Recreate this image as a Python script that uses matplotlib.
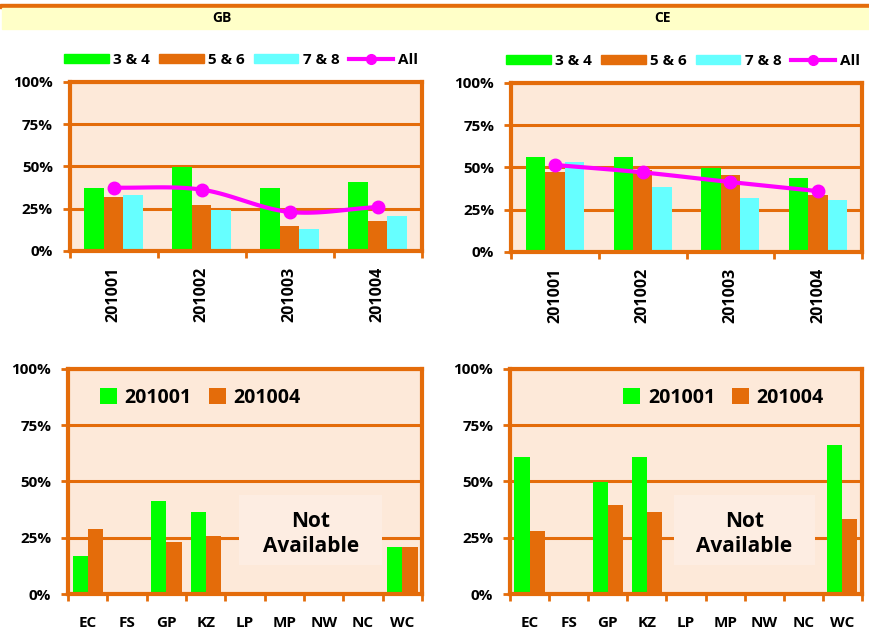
import numpy as np
import matplotlib.pyplot as plt
from matplotlib.patches import Rectangle
from matplotlib.lines import Line2D

plt.rcParams['font.family'] = ['Open Sans', 'DejaVu Sans']
plt.rcParams['font.weight'] = 'bold'

# data
quarters = ["201001", "201002", "201003", "201004"]
series_names = ["3 & 4", "5 & 6", "7 & 8"]
gb_34 = [0.37, 0.497, 0.37, 0.406]
gb_56 = [0.32, 0.274, 0.148, 0.176]
gb_78 = [0.33, 0.245, 0.128, 0.207]
gb_all = [0.375, 0.363, 0.231, 0.26]
ce_34 = [0.56, 0.56, 0.495, 0.436]
ce_56 = [0.471, 0.485, 0.453, 0.337]
ce_78 = [0.53, 0.386, 0.32, 0.31]
ce_all = [0.515, 0.471, 0.414, 0.36]

provinces = ["EC", "FS", "GP", "KZ", "LP", "MP", "NW", "NC", "WC"]
gb_p1 = [0.167, np.nan, 0.412, 0.363, np.nan, np.nan, np.nan, np.nan, 0.21]
gb_p4 = [0.29, np.nan, 0.233, 0.256, np.nan, np.nan, np.nan, np.nan, 0.21]
ce_p1 = [0.607, np.nan, 0.499, 0.607, np.nan, np.nan, np.nan, np.nan, 0.664]
ce_p4 = [0.281, np.nan, 0.397, 0.363, np.nan, np.nan, np.nan, np.nan, 0.333]

GREEN = "#00ff00"
ORANGE = "#e46c0a"
CYAN = "#66ffff"
MAGENTA = "#ff00ff"
BG = "#fde9d9"


def smooth(xs, ys, n=30):
    # catmull-rom curve through the points, like excel's smoothed line
    xs = np.asarray(xs, float)
    ys = np.asarray(ys, float)
    px = np.concatenate([[2 * xs[0] - xs[1]], xs, [2 * xs[-1] - xs[-2]]])
    py = np.concatenate([[2 * ys[0] - ys[1]], ys, [2 * ys[-1] - ys[-2]]])
    ox, oy = [], []
    t = np.linspace(0, 1, n)
    for i in range(1, len(px) - 2):
        for p, out in ((px, ox), (py, oy)):
            p0, p1, p2, p3 = p[i - 1], p[i], p[i + 1], p[i + 2]
            out.extend(0.5 * (2 * p1 + (-p0 + p2) * t + (2 * p0 - 5 * p1 + 4 * p2 - p3) * t ** 2
                              + (-p0 + 3 * p1 - 3 * p2 + p3) * t ** 3))
    return ox, oy


def style_axes(ax, ncat, xpad, xsize):
    ax.set_facecolor(BG)
    ax.set_ylim(0, 1)
    ax.set_xlim(-0.5, ncat - 0.5)
    ax.set_yticks([0, 0.25, 0.5, 0.75, 1.0])
    ax.set_yticklabels(["0%", "25%", "50%", "75%", "100%"])
    ax.yaxis.grid(True, color=ORANGE, linewidth=2.2)
    ax.set_axisbelow(True)
    for s in ax.spines.values():
        s.set_color(ORANGE)
        s.set_linewidth(3)
    ax.tick_params(axis="y", length=5, width=2, color=ORANGE, pad=7, labelsize=11)
    ax.set_xticks(np.arange(ncat))
    ax.set_xticks(np.arange(ncat + 1) - 0.5, minor=True)
    ax.tick_params(axis="x", which="major", length=0, pad=xpad, labelsize=xsize)
    ax.tick_params(axis="x", which="minor", length=5, width=2, color=ORANGE)


fig = plt.figure(figsize=(8.7, 6.33), dpi=100)

# header strip
fig.patches.append(Rectangle((0, 1 - 8 / 633), 1, 4 / 633, transform=fig.transFigure,
                             color=ORANGE, zorder=0))
fig.patches.append(Rectangle((2 / 870, 1 - 29 / 633), 1, 21 / 633, transform=fig.transFigure,
                             color="#ffffc8", zorder=0))
fig.text(222 / 870, 1 - 18 / 633, "GB", ha="center", va="center", fontsize=10)
fig.text(663 / 870, 1 - 18 / 633, "CE", ha="center", va="center", fontsize=10)

top_axes = [fig.add_axes([0.0799, 0.6035, 0.4046, 0.267]),
            fig.add_axes([0.5874, 0.6019, 0.4034, 0.267])]
top_data = [(gb_34, gb_56, gb_78, gb_all), (ce_34, ce_56, ce_78, ce_all)]
legend_x = [0.487, 0.49]

x = np.arange(len(quarters))
w = 0.22
for ax, (s34, s56, s78, sall), lx in zip(top_axes, top_data, legend_x):
    style_axes(ax, len(quarters), 11, 11.5)
    ax.bar(x - w, s34, w, color=GREEN, zorder=2)
    ax.bar(x, s56, w, color=ORANGE, zorder=2)
    ax.bar(x + w, s78, w, color=CYAN, zorder=2)
    sx, sy = smooth(x, sall)
    ax.plot(sx, sy, color=MAGENTA, linewidth=3, zorder=3, solid_capstyle="round")
    ax.plot(x, sall, "o", color=MAGENTA, markersize=9, zorder=4)
    ax.set_xticklabels(quarters, rotation=90, va="top")
    handles = [Rectangle((0, 0), 1, 1, color=GREEN), Rectangle((0, 0), 1, 1, color=ORANGE),
               Rectangle((0, 0), 1, 1, color=CYAN),
               Line2D([], [], color=MAGENTA, linewidth=3, marker="o", markersize=7)]
    ax.legend(handles, series_names + ["All"], ncol=4, loc="center", bbox_to_anchor=(lx, 1.13),
              frameon=False, fontsize=11, handlelength=2.9, handleheight=0.5,
              handletextpad=0.3, columnspacing=0.6, borderaxespad=0)

bot_axes = [fig.add_axes([0.0782, 0.0616, 0.407, 0.3555]),
            fig.add_axes([0.5862, 0.0616, 0.4046, 0.3555])]
bot_data = [(gb_p1, gb_p4), (ce_p1, ce_p4)]
leg_x = [0.374, 0.607]
box_x = [(0.483, 0.887), (0.466, 0.866)]

xp = np.arange(len(provinces))
wb = 0.385
for ax, (p1, p4), lx, (bx0, bx1) in zip(bot_axes, bot_data, leg_x, box_x):
    style_axes(ax, len(provinces), 16, 11)
    ax.bar(xp - wb / 2, p1, wb, color=GREEN, zorder=2, label="201001")
    ax.bar(xp + wb / 2, p4, wb, color=ORANGE, zorder=2, label="201004")
    ax.set_xticklabels(provinces)
    ax.legend(ncol=2, loc="center", bbox_to_anchor=(lx, 0.871), frameon=False, fontsize=14,
              handlelength=0.85, handleheight=0.9, handletextpad=0.4, columnspacing=0.9,
              borderaxespad=0)
    ax.add_patch(Rectangle((bx0, 0.129), bx1 - bx0, 0.311, transform=ax.transAxes,
                           facecolor="#fdede2", edgecolor="none", zorder=1.5))
    ax.text((bx0 + bx1) / 2, 0.267, "Not\nAvailable", transform=ax.transAxes, ha="center",
            va="center", fontsize=15, linespacing=1.25, zorder=3)

fig.savefig("out.png", dpi=100)
